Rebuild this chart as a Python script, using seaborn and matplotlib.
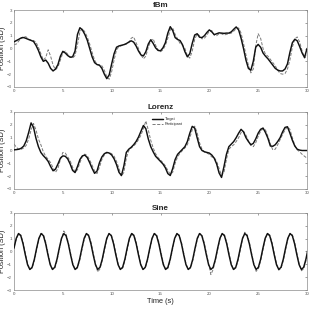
import numpy as np
import pandas as pd
import matplotlib
matplotlib.use("Agg")
import matplotlib.pyplot as plt
import seaborn as sns

# ---------------- data ----------------
titles = ["fBm", "Lorenz", "Sine"]
x_ticks = [0, 5, 10, 15, 20, 25, 30]
y_ticks = [-3, -2, -1, 0, 1, 2, 3]
series_names = ["Target", "Participant"]

time_grid = np.round(np.arange(0, 30.001, 0.25), 2)

fbm_target = [
    0.52, 0.62, 0.72, 0.83, 0.85, 0.78, 0.70, 0.63, 0.55, 0.25, -0.15, -0.65,
    -1.00, -0.90, -1.15, -1.55, -1.75, -1.60, -1.25, -0.60, -0.22, -0.35, -0.55, -0.68,
    -0.65, -0.20, 1.10, 1.62, 1.45, 1.10, 0.65, 0.00, -0.65, -1.10, -1.25, -1.30,
    -1.55, -2.00, -2.35, -2.05, -1.20, -0.40, 0.10, 0.20, 0.25, 0.30, 0.38, 0.50,
    0.60, 0.50, 0.20, -0.20, -0.50, -0.58, -0.25, 0.35, 0.68, 0.40, 0.05, -0.15,
    -0.18, 0.05, 0.45, 1.20, 1.70, 1.40, 0.85, 0.70, 0.62, 0.30, -0.25, -0.65,
    -0.40, 0.40, 1.05, 1.15, 0.88, 0.85, 1.00, 1.25, 1.45, 1.30, 1.08, 1.15,
    1.22, 1.20, 1.18, 1.20, 1.20, 1.30, 1.50, 1.68, 1.45, 0.80, 0.00, -0.90,
    -1.55, -1.70, -1.00, 0.10, 0.32, 0.10, -0.35, -0.60, -0.80, -1.05, -1.30, -1.55,
    -1.68, -1.75, -1.75, -1.60, -1.20, -0.30, 0.45, 0.72, 0.60, 0.15, -0.35, -0.70,
    0.00,
]
fbm_participant = [
    0.30, 0.35, 0.60, 0.80, 0.95, 0.90, 0.72, 0.65, 0.62, 0.50, 0.10, -0.40,
    -0.90, -0.70, -0.10, -0.60, -1.30, -1.65, -1.45, -0.90, -0.35, -0.20, -0.45, -0.65,
    -0.75, -0.55, 0.30, 1.30, 1.55, 1.30, 0.90, 0.35, -0.30, -0.90, -1.25, -1.30,
    -1.35, -1.70, -2.20, -2.40, -1.80, -0.90, -0.10, 0.15, 0.22, 0.28, 0.35, 0.45,
    0.80, 0.90, 0.45, 0.00, -0.50, -0.80, -0.60, 0.10, 0.60, 0.75, 0.25, -0.10,
    -0.25, -0.10, 0.25, 0.80, 1.45, 1.60, 1.10, 0.75, 0.40, 0.25, 0.00, -0.55,
    -0.75, -0.20, 0.70, 1.15, 1.00, 0.75, 0.80, 1.05, 1.35, 1.40, 1.05, 1.00,
    1.15, 1.15, 1.05, 1.10, 1.15, 1.20, 1.35, 1.55, 1.60, 1.20, 0.40, -0.50,
    -1.30, -1.90, -1.60, 0.20, 1.15, 0.80, 0.00, -0.45, -0.60, -0.85, -1.10, -1.35,
    -1.70, -1.95, -2.00, -1.95, -1.60, -0.90, 0.10, 0.75, 0.90, 0.50, -0.20, -0.75,
    -0.50,
]

lorenz_target = [
    0.05, 0.07, 0.10, 0.18, 0.35, 0.75, 1.40, 2.15, 1.80, 0.95, 0.30, -0.15,
    -0.40, -0.60, -0.85, -1.25, -1.58, -1.45, -1.05, -0.60, -0.42, -0.45, -0.65, -1.05,
    -1.55, -1.72, -1.25, -0.70, -0.42, -0.36, -0.55, -0.95, -1.40, -1.78, -1.60, -0.95,
    -0.50, -0.25, -0.15, -0.20, -0.35, -0.65, -1.10, -1.70, -1.95, -1.20, -0.15, 0.10,
    0.25, 0.45, 0.70, 1.05, 1.50, 1.95, 1.70, 0.90, 0.30, -0.10, -0.45, -0.65,
    -0.85, -1.05, -1.35, -1.80, -1.95, -1.40, -0.70, -0.30, -0.10, 0.10, 0.30, 0.70,
    1.35, 1.88, 1.75, 1.00, 0.30, 0.00, -0.10, -0.15, -0.20, -0.35, -0.60, -1.05,
    -1.75, -2.10, -1.25, -0.30, 0.30, 0.50, 0.70, 1.00, 1.35, 1.65, 1.45, 1.00,
    0.70, 0.45, 0.55, 0.90, 1.35, 1.65, 1.75, 1.40, 0.95, 0.35, 0.33, 0.45,
    0.70, 1.00, 1.45, 1.80, 1.85, 1.35, 0.80, 0.35, 0.10, 0.03, 0.00, 0.00,
    0.00,
]
lorenz_participant = [
    0.50, 0.25, 0.08, 0.10, 0.20, 0.40, 0.90, 1.60, 2.10, 1.60, 0.90, 0.45,
    -0.10, -0.45, -0.70, -0.95, -1.35, -1.70, -1.40, -0.70, -0.15, -0.20, -0.50, -0.80,
    -1.30, -1.70, -1.50, -0.95, -0.45, -0.28, -0.40, -0.75, -1.15, -1.60, -1.80, -1.30,
    -0.70, -0.35, -0.18, -0.15, -0.25, -0.45, -0.85, -1.40, -2.00, -1.70, -0.60, 0.00,
    0.20, 0.35, 0.55, 0.85, 1.20, 1.70, 2.30, 1.60, 0.80, 0.20, -0.25, -0.55,
    -0.75, -0.95, -1.20, -1.55, -1.85, -1.70, -1.00, -0.50, -0.20, 0.00, 0.20, 0.45,
    1.00, 1.60, 1.90, 1.40, 0.60, 0.10, -0.10, -0.20, -0.30, -0.50, -0.55, -0.85,
    -1.40, -1.95, -1.70, -0.70, 0.10, 0.30, 0.45, 0.70, 1.00, 1.40, 1.50, 1.20,
    0.75, 0.40, 0.30, 0.60, 1.10, 1.50, 1.70, 1.60, 1.10, 0.50, 0.05, 0.10,
    0.45, 0.85, 1.25, 1.60, 1.85, 1.65, 1.00, 0.40, 0.05, -0.10, -0.30, -0.45,
    -0.60,
]

sine_time = np.round(np.arange(0, 131) * 0.2317, 4)
sine_target = [
    0.26, 1.03, 1.40, 1.23, 0.60, -0.26, -1.03, -1.40, -1.23, -0.60,
    0.26, 1.03, 1.40, 1.23, 0.60, -0.26, -1.03, -1.40, -1.23, -0.60,
    0.26, 1.03, 1.40, 1.23, 0.60, -0.26, -1.03, -1.40, -1.23, -0.60,
    0.26, 1.03, 1.40, 1.23, 0.60, -0.26, -1.03, -1.40, -1.23, -0.60,
    0.26, 1.03, 1.40, 1.23, 0.60, -0.26, -1.03, -1.40, -1.23, -0.60,
    0.26, 1.03, 1.40, 1.23, 0.60, -0.26, -1.03, -1.40, -1.23, -0.60,
    0.26, 1.03, 1.40, 1.23, 0.60, -0.26, -1.03, -1.40, -1.23, -0.60,
    0.26, 1.03, 1.40, 1.23, 0.60, -0.26, -1.03, -1.40, -1.23, -0.60,
    0.26, 1.03, 1.40, 1.23, 0.60, -0.26, -1.03, -1.40, -1.23, -0.60,
    0.26, 1.03, 1.40, 1.23, 0.60, -0.26, -1.03, -1.40, -1.23, -0.60,
    0.26, 1.03, 1.40, 1.23, 0.60, -0.26, -1.03, -1.40, -1.23, -0.60,
    0.26, 1.03, 1.40, 1.23, 0.60, -0.26, -1.03, -1.40, -1.23, -0.60,
    0.26, 1.03, 1.40, 1.23, 0.60, -0.26, -1.03, -1.40, -1.23, -0.60,
    0.26,
]
sine_participant = [
    0.40, 0.95, 1.38, 1.30, 0.72, -0.12, -0.95, -1.38, -1.30, -0.72,
    0.12, 0.95, 1.40, 1.32, 0.75, -0.10, -0.92, -1.36, -1.32, -0.75,
    0.10, 0.98, 1.60, 1.35, 0.70, -0.12, -0.95, -1.40, -1.30, -0.72,
    0.12, 0.92, 1.38, 1.30, 0.75, -0.10, -0.95, -1.60, -1.35, -0.70,
    0.10, 0.95, 1.40, 1.30, 0.72, -0.12, -0.94, -1.38, -1.30, -0.75,
    0.10, 0.95, 1.42, 1.30, 0.74, -0.12, -0.95, -1.38, -1.30, -0.72,
    0.12, 0.95, 1.40, 1.32, 0.75, -0.10, -0.92, -1.40, -1.32, -0.75,
    0.10, 0.95, 1.38, 1.30, 0.72, -0.12, -0.95, -1.38, -1.30, -0.72,
    0.12, 0.95, 1.40, 1.30, 0.74, -0.10, -0.95, -1.80, -1.40, -0.70,
    0.12, 0.95, 1.40, 1.30, 0.72, -0.12, -0.95, -1.40, -1.30, -0.72,
    0.10, 0.98, 1.50, 1.32, 0.72, -0.12, -0.95, -1.55, -1.35, -0.72,
    0.12, 0.95, 1.40, 1.30, 0.74, -0.10, -0.95, -1.45, -1.32, -0.72,
    0.12, 0.95, 1.40, 1.30, 0.72, -0.10, -0.95, -1.50, -1.35, -0.75,
    0.10,
]

panels = [
    (time_grid, fbm_target, fbm_participant),
    (time_grid, lorenz_target, lorenz_participant),
    (sine_time, sine_target, sine_participant),
]

# ---------------- figure ----------------
sns.set_style("white")
plt.rcParams["font.family"] = ["Liberation Sans", "DejaVu Sans"]

fig = plt.figure(figsize=(3.12, 3.09), dpi=100)
W, H = 312.0, 309.0
boxes = [(10, 87), (112, 189), (213, 290)]
left, right = 14, 307
spine_col = "#8a8a8a"
tick_col = "#555555"

for i, ((tt, tgt, par), (top, bot)) in enumerate(zip(panels, boxes)):
    ax = fig.add_axes([left / W, 1 - bot / H, (right - left) / W, (bot - top) / H])
    df = pd.DataFrame({"t": np.concatenate([tt, tt]),
                       "v": np.concatenate([tgt, par]),
                       "series": [series_names[0]] * len(tt) + [series_names[1]] * len(tt)})
    sns.lineplot(data=df[df.series == "Target"], x="t", y="v", ax=ax,
                 color="#111111", lw=1.05, label="Target", legend=False, zorder=3)
    sns.lineplot(data=df[df.series == "Participant"], x="t", y="v", ax=ax,
                 color="#7a7a7a", lw=0.7, label="Participant",
                 legend=False, zorder=2)
    ax.lines[-1].set_linestyle((0, (3.2, 1.6)))
    ax.set_xlim(0, 30)
    ax.set_ylim(-3, 3)
    ax.set_xticks(x_ticks)
    ax.set_yticks(y_ticks)
    ax.tick_params(direction="in", length=1.6, width=0.4, labelsize=3.2,
                   colors=tick_col, pad=1.5, top=True, right=True)
    for s in ax.spines.values():
        s.set_color(spine_col)
        s.set_linewidth(0.5)
    ax.set_title(titles[i], fontsize=5.8, fontweight="bold", pad=2)
    ax.set_ylabel("Position (SD)", fontsize=5.3, color="#222222")
    ax.yaxis.set_label_coords(-0.028, 0.5)
    ax.set_xlabel("")
    if i == 1:
        ax.legend(loc="upper left", bbox_to_anchor=(0.46, 0.97), frameon=False,
                  fontsize=2.8, handlelength=3.0, handletextpad=0.4,
                  labelspacing=0.25, borderpad=0.2)
    if i == 2:
        ax.set_xlabel("Time (s)", fontsize=5.3, labelpad=1.5, color="#222222")

fig.savefig("out.png", dpi=100)
